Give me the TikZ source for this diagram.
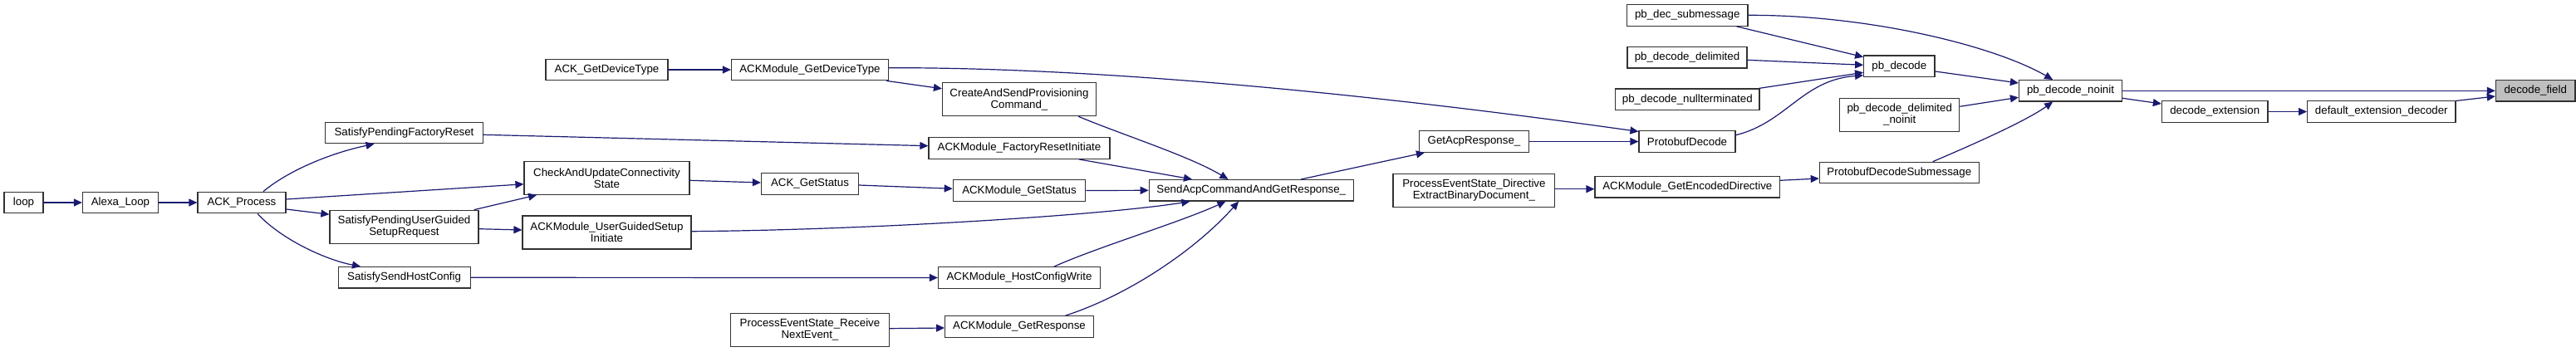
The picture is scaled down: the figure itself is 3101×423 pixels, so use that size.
\documentclass[tikz,border=0pt]{standalone}
\usepackage{fontspec}
\setmainfont{Liberation Sans}
\usetikzlibrary{arrows.meta,calc}
\definecolor{edgec}{RGB}{25,25,112}
\definecolor{boxc}{RGB}{50,50,50}
\definecolor{curfill}{RGB}{191,191,191}
\tikzset{
  box/.style={draw=boxc, fill=white, line width=1.2pt, inner sep=0pt,
    minimum height=25.5pt, align=center,
    font=\fontsize{13.3}{14}\selectfont},
  twoline/.style={minimum height=40pt},
  edge/.style={draw=edgec, line width=1.2pt, -{Triangle[length=10pt,width=9pt]}, edgec},
}
\begin{document}
\begin{tikzpicture}[x=1pt,y=-1pt]
\useasboundingbox (0,0) rectangle (3101,423);
% nodes
\node[box, minimum width=47pt] (loop) at (28.5,244) {loop};
\node[box, minimum width=91pt] (alexa) at (145,244) {Alexa\_Loop};
\node[box, minimum width=106pt] (proc) at (291,244) {ACK\_Process};
\node[box, minimum width=190pt] (spfr) at (486.5,160) {SatisfyPendingFactoryReset};
\node[box, twoline, minimum width=179pt] (spug) at (486.5,273.3) {SatisfyPendingUserGuided\\SetupRequest};
\node[box, minimum width=159pt] (sshc) at (486.6,334.3) {SatisfySendHostConfig};
\node[box, minimum width=147pt] (ackgdt) at (730.5,84) {ACK\_GetDeviceType};
\node[box, twoline, minimum width=199pt] (cauc) at (730.5,214.3) {CheckAndUpdateConnectivity\\State};
\node[box, twoline, minimum width=203pt] (amugs) at (730.5,280) {ACKModule\_UserGuidedSetup\\Initiate};
\node[box, minimum width=189pt] (amgdt) at (975,84) {ACKModule\_GetDeviceType};
\node[box, minimum width=117pt] (ackgs) at (975,221.5) {ACK\_GetStatus};
\node[box, twoline, minimum width=191pt] (prne) at (975,397.3) {ProcessEventState\_Receive\\NextEvent\_};
\node[box, twoline, minimum width=185pt] (casp) at (1227,119.7) {CreateAndSendProvisioning\\Command\_};
\node[box, minimum width=218pt] (amfri) at (1227,178.5) {ACKModule\_FactoryResetInitiate};
\node[box, minimum width=159.5pt] (amgs) at (1227,229.5) {ACKModule\_GetStatus};
\node[box, minimum width=195pt] (amhcw) at (1227,334.5) {ACKModule\_HostConfigWrite};
\node[box, minimum width=178.7pt] (amgr) at (1227,393.5) {ACKModule\_GetResponse};
\node[box, minimum width=246pt] (sacgr) at (1506.3,229.3) {SendAcpCommandAndGetResponse\_};
\node[box, minimum width=132pt] (gar) at (1774.5,170.5) {GetAcpResponse\_};
\node[box, twoline, minimum width=194.7pt] (pesd) at (1774.4,229.2) {ProcessEventState\_Directive\\ExtractBinaryDocument\_};
\node[box, minimum width=145.4pt] (pbsub) at (2031.2,18.5) {pb\_dec\_submessage};
\node[box, minimum width=144pt] (pbdd) at (2031,69.3) {pb\_decode\_delimited};
\node[box, minimum width=173.3pt] (pbdn) at (2031.3,119.8) {pb\_decode\_nullterminated};
\node[box, minimum width=116pt] (pdec) at (2031,170.5) {ProtobufDecode};
\node[box, minimum width=222.6pt] (amged) at (2031.3,225.2) {ACKModule\_GetEncodedDirective};
\node[box, minimum width=85.3pt] (pbdecode) at (2286.3,79.7) {pb\_decode};
\node[box, twoline, minimum width=144pt] (pbddn) at (2286.7,138.3) {pb\_decode\_delimited\\\_noinit};
\node[box, minimum width=192pt] (pds) at (2286.3,208) {ProtobufDecodeSubmessage};
\node[box, minimum width=124pt] (noinit) at (2492.5,109.3) {pb\_decode\_noinit};
\node[box, minimum width=127.6pt] (dext) at (2666.2,134.5) {decode\_extension};
\node[box, minimum width=178.4pt] (ded) at (2866.8,134.5) {default\_extension\_decoder};
\node[box, minimum width=95.6pt, fill=curfill] (df) at (3052.2,109.3) {decode\_field};
% edges
\draw[edge] (loop.east) -- (alexa.west);
\draw[edge] (alexa.east) -- (proc.west);
\draw[edge] ($(proc.north)+(26,0)$) .. controls (345,207) and (395,185) .. ($(spfr.south)+(-36,0)$);
\draw[edge] ($(proc.east)+(0,-4)$) -- ($(cauc.west)+(0,7.5)$);
\draw[edge] ($(proc.east)+(0,8)$) -- ($(spug.west)+(0,-15)$);
\draw[edge] ($(proc.south)+(19,0)$) .. controls (338,288) and (392,313) .. ($(sshc.north)+(-52.6,0)$);
\draw[edge] ($(spfr.east)+(0,2.3)$) -- ($(amfri.west)+(0,-2.8)$);
\draw[edge] ($(spug.north east)+(-6,0)$) -- ($(cauc.south west)+(15.7,0)$);
\draw[edge] ($(spug.east)+(0,2.4)$) -- ($(amugs.west)+(0,-3)$);
\draw[edge] (sshc.east) -- (amhcw.west);
\draw[edge] (ackgdt.east) -- (amgdt.west);
\draw[edge] ($(amgdt.south east)+(-3,0)$) -- ($(casp.north west)+(0,7.7)$);
\draw[edge] ($(amgdt.east)+(0,-2.3)$) .. controls (1350,81) and (1700,120) .. ($(pdec.north west)+(0,1.3)$);
\draw[edge] ($(cauc.east)+(0,3)$) -- ($(ackgs.west)+(0,-1.5)$);
\draw[edge] ($(ackgs.east)+(0,1.5)$) -- ($(amgs.west)+(0,-2.2)$);
\draw[edge] ($(amugs.east)+(0,-1.3)$) .. controls (1050,277) and (1330,259) .. ($(sacgr.south west)+(49.7,0)$);
\draw[edge] ($(casp.south east)+(-21.8,0)$) .. controls (1350,162) and (1432,188) .. ($(sacgr.north west)+(95.7,0)$);
\draw[edge] ($(amfri.south east)+(-38,0)$) -- ($(sacgr.north west)+(52.3,0)$);
\draw[edge] (amgs.east) -- (sacgr.west);
\draw[edge] ($(amhcw.north)+(41.8,0)$) .. controls (1320,298) and (1420,268) .. ($(sacgr.south west)+(92.7,0)$);
\draw[edge] ($(amgr.north)+(55.5,0)$) .. controls (1360,355) and (1440,300) .. ($(sacgr.south west)+(108.4,0)$);
\draw[edge] ($(prne.east)+(0,-1.6)$) -- ($(amgr.west)+(0,1.5)$);
\draw[edge] ($(sacgr.north west)+(183.4,0)$) -- ($(gar.south west)+(7,0)$);
\draw[edge] (gar.east) -- (pdec.west);
\draw[edge] ($(pdec.east)+(0,-7.8)$) .. controls (2150,148) and (2170,96) .. ($(pbdecode.south west)+(0,-2.3)$);
\draw[edge] ($(pbsub.south east)+(-14,0)$) -- ($(pbdecode.north west)+(0,2.3)$);
\draw[edge] ($(pbdd.east)+(0,3)$) -- ($(pbdecode.west)+(0,-1.4)$);
\draw[edge] ($(pbdn.north east)+(-1.3,0)$) -- ($(pbdecode.west)+(0,7.6)$);
\draw[edge] ($(pbsub.east)+(0,-0.2)$) .. controls (2250,18) and (2400,55) .. ($(noinit.north west)+(41.2,0)$);
\draw[edge] ($(pbdecode.east)+(0,6.3)$) -- ($(noinit.west)+(0,-9.3)$);
\draw[edge] ($(pbddn.east)+(0,-10)$) -- ($(noinit.west)+(0,8)$);
\draw[edge] ($(pds.north)+(40.4,0)$) .. controls (2380,172) and (2440,145) .. ($(noinit.south west)+(41.2,0)$);
\draw[edge] ($(pesd.east)+(0,-1.5)$) -- ($(amged.west)+(0,2.5)$);
\draw[edge] ($(amged.east)+(0,-7.9)$) -- ($(pds.west)+(0,7)$);
\draw[edge] (noinit.east) -- (df.west);
\draw[edge] ($(noinit.east)+(0,9)$) -- ($(dext.west)+(0,-9.5)$);
\draw[edge] (dext.east) -- (ded.west);
\draw[edge] ($(ded.north east)+(0,0.3)$) -- ($(df.west)+(0,6.7)$);
\end{tikzpicture}
\end{document}
